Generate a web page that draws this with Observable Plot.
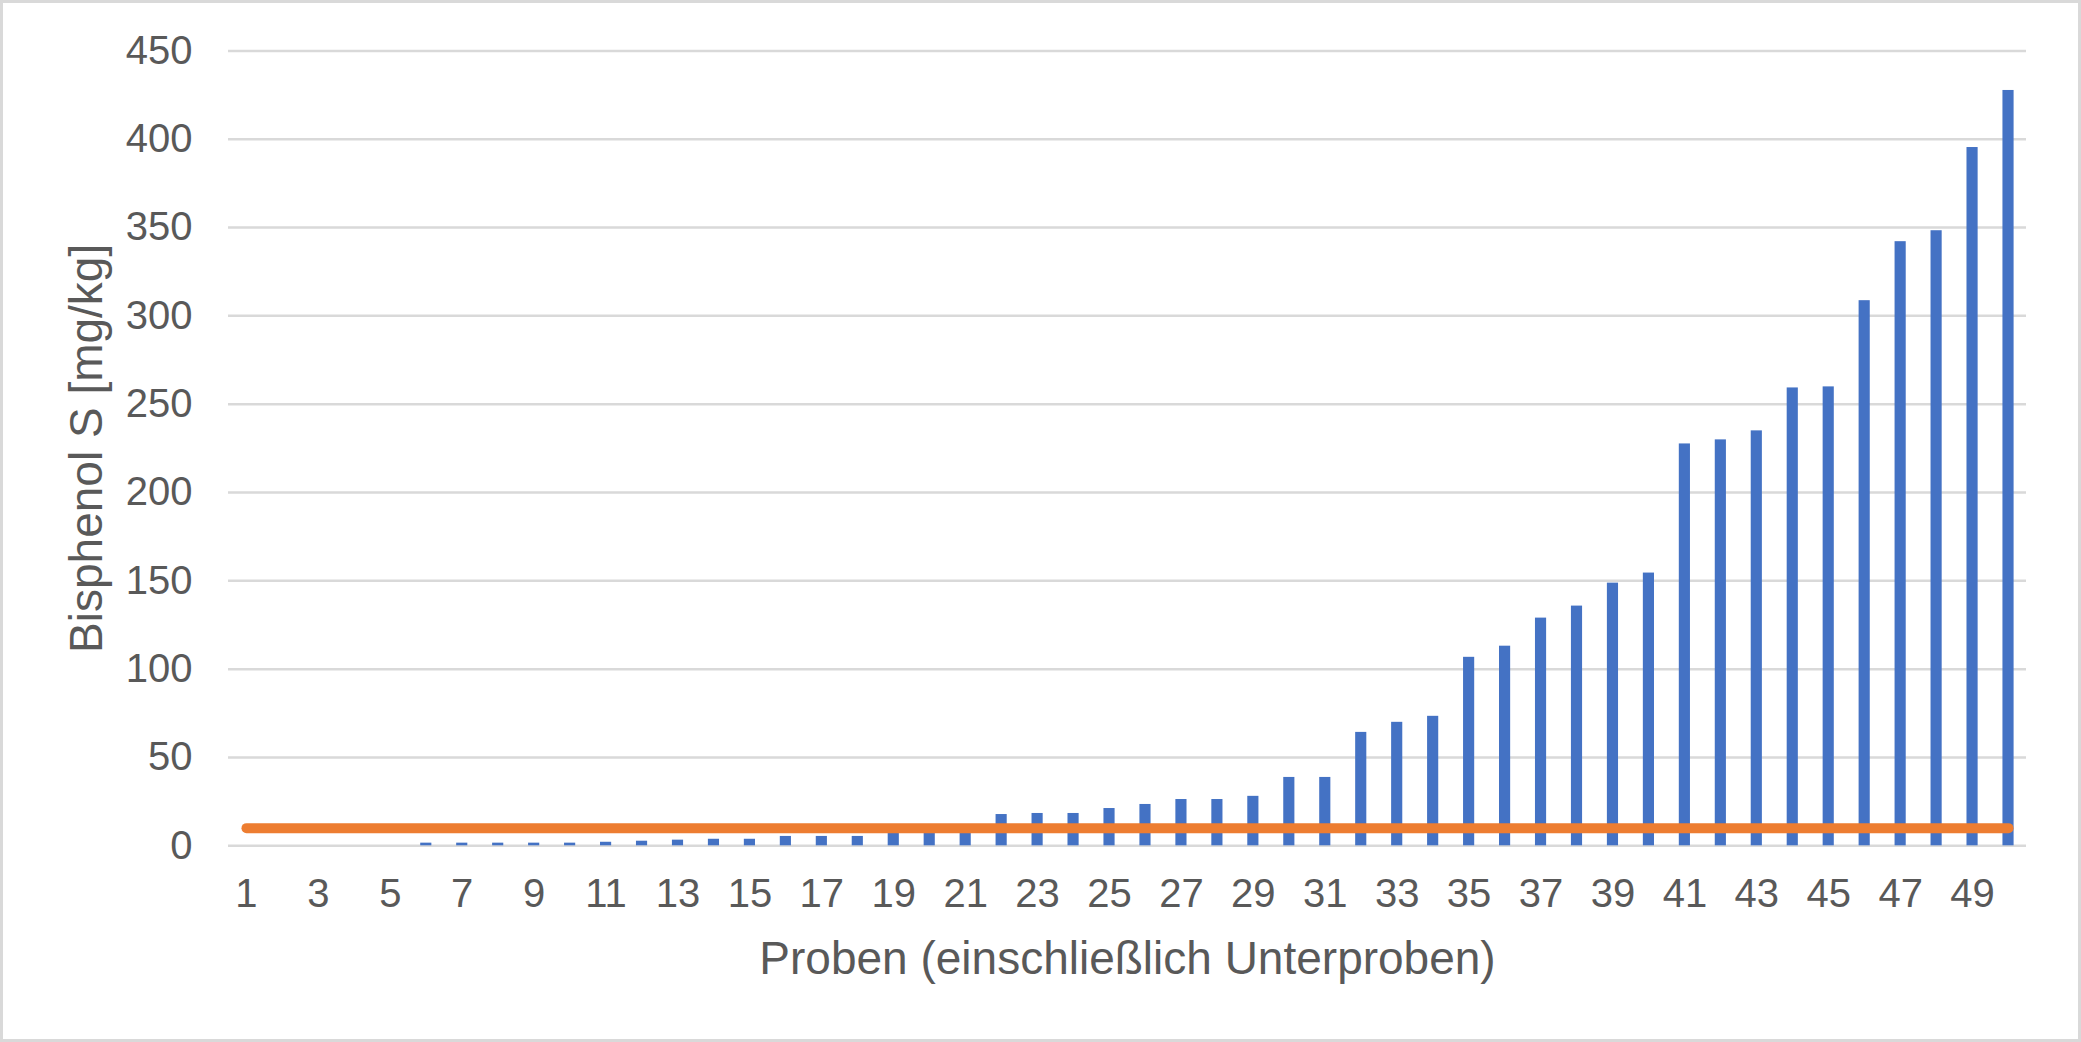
<!DOCTYPE html>
<html>
<head>
<meta charset="utf-8">
<script src="https://cdn.jsdelivr.net/npm/d3@7"></script>
<script src="https://cdn.jsdelivr.net/npm/@observablehq/plot@0.6"></script>
<style>
html, body { margin: 0; padding: 0; background: #fff; overflow: hidden; }
#chart svg { display: block; outline: 3px solid #d9d9d9; outline-offset: -3px; }
</style>
</head>
<body>
<div id="chart"></div>
<script>
// Sample numbers (categories on the x axis)
const samples = [1,2,3,4,5,6,7,8,9,10,11,12,13,14,15,16,17,18,19,20,21,22,23,24,25,
                 26,27,28,29,30,31,32,33,34,35,36,37,38,39,40,41,42,43,44,45,46,47,48,49,50];
// Bisphenol S content [mg/kg]
const bpsValues = [0,0,0,0,0,1.5,1.5,1.5,1.5,1.5,2,2.6,3.2,3.7,3.7,5.3,5.3,5.3,8,8,8.5,
                   17.7,18.3,18.3,21.1,23.4,26.2,26.2,28,38.7,38.7,64.2,69.9,73.3,106.7,113,
                   128.9,135.7,148.7,154.4,227.5,229.8,234.9,259.2,259.8,308.6,342,348.2,395.3,427.6];
// Limit value line
const limitValue = 10;
// Tick labels
const yTicks = [0,50,100,150,200,250,300,350,400,450];
const xTickLabels = [1,3,5,7,9,11,13,15,17,19,21,23,25,27,29,31,33,35,37,39,41,43,45,47,49];
const yTitle = "Bisphenol S [mg/kg]";
const xTitle = "Proben (einschließlich Unterproben)";

const data = samples.map((s, i) => ({probe: s, value: bpsValues[i], limit: limitValue}));
const font = "'Liberation Sans', Arial, sans-serif";

const chart = Plot.plot({
  width: 2081,
  height: 1042,
  marginTop: 50.4,
  marginBottom: 196.7,
  marginLeft: 228,
  marginRight: 55,
  style: {fontFamily: font, color: "#595959", background: "#fff", overflow: "visible"},
  x: {type: "band", domain: samples, paddingInner: 0.69, paddingOuter: 0.345, round: false},
  y: {domain: [0, 450]},
  marks: [
    Plot.ruleY(yTicks, {stroke: "#d9d9d9", strokeWidth: 2.5}),
    Plot.barY(data, {x: "probe", y: "value", fill: "#4472C4"}),
    Plot.lineY(data, {x: "probe", y: "limit", stroke: "#ED7D31", strokeWidth: 10, strokeLinecap: "round"}),
    Plot.axisY({ticks: yTicks, tickSize: 0, tickPadding: 36, fontSize: 40, label: null}),
    Plot.axisX({ticks: xTickLabels, tickSize: 0, tickPadding: 33, fontSize: 40, label: null}),
    Plot.text([yTitle], {text: d => d, frameAnchor: "left", rotate: -90, dx: -141.7, fontSize: 46, textAnchor: "middle", lineAnchor: "middle", fill: "#595959"}),
    Plot.text([xTitle], {text: d => d, frameAnchor: "bottom", dy: 113, fontSize: 46, textAnchor: "middle", lineAnchor: "middle", fill: "#595959"})
  ]
});
document.getElementById("chart").appendChild(chart);
</script>
</body>
</html>
